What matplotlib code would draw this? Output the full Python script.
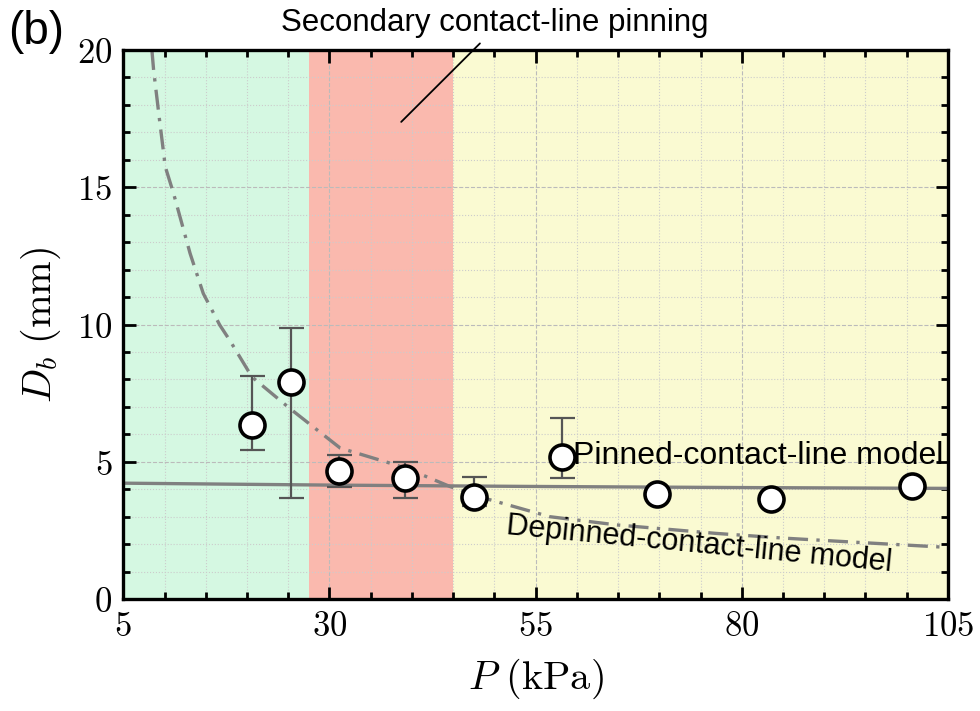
import numpy as np
import matplotlib
matplotlib.use("Agg")
import matplotlib.pyplot as plt
from matplotlib.ticker import MultipleLocator, FixedLocator, FuncFormatter

plt.rcParams['mathtext.fontset'] = 'cm'
plt.rcParams['font.family'] = ['Liberation Sans', 'DejaVu Sans']

# measured bubble departure diameters
pressure = [20.6, 25.3, 31.2, 39.2, 47.5, 58.2, 69.7, 83.6, 100.6]
diameter = [6.34, 7.91, 4.67, 4.42, 3.73, 5.18, 3.81, 3.63, 4.12]
err_low = [5.43, 3.67, 4.09, 3.67, 3.40, 4.42, np.nan, np.nan, np.nan]
err_high = [8.12, 9.86, 5.24, 4.98, 4.43, 6.58, np.nan, np.nan, np.nan]

# model curves
pinned_p = [5, 30, 55, 80, 105]
pinned_d = [4.22, 4.15, 4.10, 4.06, 4.03]
depinned_p = [8.47, 8.68, 9.4, 10.1, 11.1, 13.1, 14.7, 16.7, 17.9, 20.6, 25.2,
              31.3, 39.2, 44.6, 48.6, 56.7, 64.8, 76.9, 85.0, 93.1, 103.8, 105]
depinned_d = [20.0, 19.26, 17.44, 15.74, 14.77, 12.59, 11.13, 9.98, 9.43, 8.09,
              6.94, 5.5, 4.78, 4.1, 3.69, 3.0, 2.7, 2.39, 2.22, 2.08, 1.9, 1.88]

x_major = [5, 30, 55, 80, 105]

# regime boundaries (kPa)
regions = [(5, 27.5, '#d5f8e2'), (27.5, 45, '#fab9ae'), (45, 105, '#fafad2')]

fig = plt.figure(figsize=(9.8, 7.11), dpi=100)
ax = fig.add_axes([0.1258, 0.1575, 0.8415, 0.7722])

for x0, x1, c in regions:
    ax.axvspan(x0, x1, color=c, lw=0, zorder=0)

ax.set_xlim(5, 105)
ax.set_ylim(0, 20)
ax.xaxis.set_major_locator(FixedLocator(x_major))
ax.xaxis.set_minor_locator(FixedLocator(np.arange(5, 106, 5)))
ax.yaxis.set_major_locator(MultipleLocator(5))
ax.yaxis.set_minor_locator(MultipleLocator(1))
fmt = FuncFormatter(lambda v, pos: f'${v:g}$')
ax.xaxis.set_major_formatter(fmt)
ax.yaxis.set_major_formatter(fmt)

ax.grid(which='major', color='#bbbbbb', ls='--', lw=0.8, zorder=1)
ax.grid(which='minor', color='#cccccc', ls=':', lw=0.8, zorder=1)
ax.set_axisbelow(True)

ax.tick_params(which='both', direction='in', top=True, right=True,
               width=2.0, labelsize=25, pad=8)
ax.tick_params(which='major', length=9)
ax.tick_params(which='minor', length=5)
for s in ax.spines.values():
    s.set_linewidth(2.4)
    s.set_zorder(10)

ax.plot(pinned_p, pinned_d, color='#808080', lw=2.4, zorder=3)
ax.plot(depinned_p, depinned_d, color='#808080', lw=2.4,
        ls=(0, (6, 2.5, 1, 2.5)), zorder=3)

p = np.array(pressure)
d = np.array(diameter)
lo = np.array(err_low)
hi = np.array(err_high)
m = ~np.isnan(lo)
ax.errorbar(p[m], d[m], yerr=[d[m] - lo[m], hi[m] - d[m]], fmt='none',
            ecolor='#555555', elinewidth=1.6, capsize=9, capthick=1.6, zorder=4)
ax.plot(p, d, 'o', ms=18, mfc='white', mec='black', mew=2.6, zorder=5)

ax.text(59.5, 5.2, 'Pinned-contact-line model', fontsize=23, va='center',
        ha='left', zorder=6)
ax.text(74.8, 1.97, 'Depinned-contact-line model', fontsize=22, va='center',
        ha='center', rotation=-5.5, zorder=6)

ax.annotate('Secondary contact-line pinning', xy=(38.7, 17.38),
            xytext=(50.0, 21.0), fontsize=22.5, ha='center', va='center',
            arrowprops=dict(arrowstyle='-', color='black', lw=1.3,
                            shrinkA=6, shrinkB=0, relpos=(0.48, 0.0),
                            patchA=None),
            annotation_clip=False)

ax.set_xlabel(r'$P\ (\mathrm{kPa})$', fontsize=29, labelpad=10)
ax.set_ylabel(r'$D_b\ (\mathrm{mm})$', fontsize=29, labelpad=10)

fig.text(0.008, 0.955, '(b)', fontsize=33, ha='left', va='center')

fig.savefig('out.png', dpi=100)
